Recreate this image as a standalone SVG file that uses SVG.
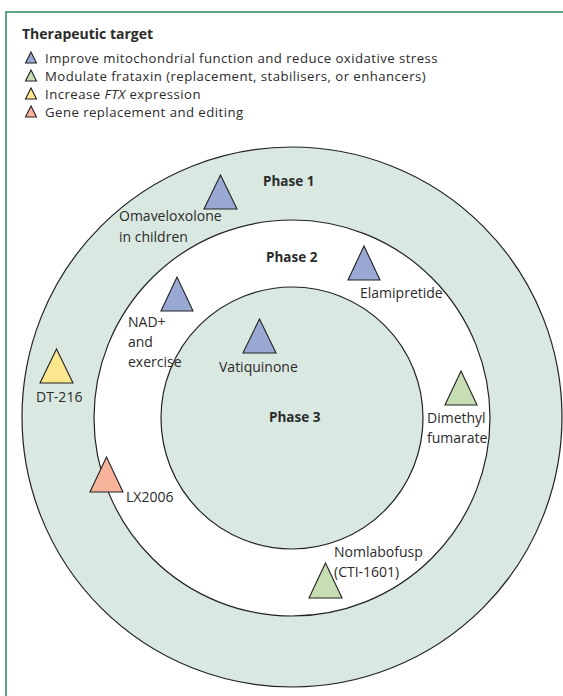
<svg xmlns="http://www.w3.org/2000/svg" width="563" height="696" viewBox="0 0 563 696">
  <style>
    .t { font-family: "Open Sans", "Noto Sans", "DejaVu Sans", sans-serif; font-size: 14px; fill: #2b2b2b; }
    .lg { font-family: "Open Sans", "Noto Sans", "DejaVu Sans", sans-serif; font-size: 13.2px; letter-spacing: 0.45px; fill: #2b2b2b; }
    .b { font-family: "Open Sans", "Noto Sans", "DejaVu Sans", sans-serif; font-size: 13.5px; font-weight: bold; fill: #2b2b2b; }
    .ring { stroke: #222; stroke-width: 1.2; }
    .tri { stroke: #222; stroke-width: 1.1; stroke-linejoin: miter; }
    .blue { fill: #9aa9d4; }
    .green { fill: #c7ddb3; }
    .yellow { fill: #fce68e; }
    .orange { fill: #f6b39a; }
    .frame { stroke: #2a8a5a; stroke-width: 1.5; fill: none; }
  </style>
  <rect width="563" height="696" fill="#ffffff"/>
  <path class="frame" d="M6,696 V12 H563"/>

  <g id="legend">
    <text class="b" x="22" y="39" style="font-size:14px">Therapeutic target</text>
    <polygon class="tri blue" points="31,52 25.5,63 36.5,63"/>
    <text class="lg" x="45" y="63">Improve mitochondrial function and reduce oxidative stress</text>
    <polygon class="tri green" points="31,70 25.5,81 36.5,81"/>
    <text class="lg" x="45" y="81">Modulate frataxin (replacement, stabilisers, or enhancers)</text>
    <polygon class="tri yellow" points="31,88 25.5,99 36.5,99"/>
    <text class="lg" x="45" y="99">Increase <tspan font-style="italic">FTX</tspan> expression</text>
    <polygon class="tri orange" points="31,106 25.5,117 36.5,117"/>
    <text class="lg" x="45" y="117">Gene replacement and editing</text>
  </g>

  <g id="phase1">
    <circle class="ring" cx="292" cy="417" r="270" fill="#d9e8e0"/>
    <text class="b" x="263" y="186">Phase 1</text>
  </g>
  <g id="phase2">
    <circle class="ring" cx="292" cy="418" r="198" fill="#ffffff"/>
    <text class="b" x="266" y="262">Phase 2</text>
  </g>
  <g id="phase3">
    <circle class="ring" cx="292" cy="418" r="131" fill="#d9e8e0"/>
    <text class="b" x="269" y="422">Phase 3</text>
  </g>

  <g id="connectors"/>

  <g id="omaveloxolone">
    <polygon class="tri blue" points="220.5,175 204,209 237,209"/>
    <text class="t" x="119" y="221">Omaveloxolone</text>
    <text class="t" x="119" y="242">in children</text>
  </g>
  <g id="elamipretide">
    <polygon class="tri blue" points="364,246 348,280 380,280"/>
    <text class="t" x="360" y="298">Elamipretide</text>
  </g>
  <g id="nad-exercise">
    <polygon class="tri blue" points="177,277 161,311 193,311"/>
    <text class="t" x="128" y="327">NAD+</text>
    <text class="t" x="128" y="347">and</text>
    <text class="t" x="128" y="367">exercise</text>
  </g>
  <g id="vatiquinone">
    <polygon class="tri blue" points="259.5,319 243,353 276,353"/>
    <text class="t" x="219" y="372">Vatiquinone</text>
  </g>
  <g id="dt216">
    <polygon class="tri yellow" points="56.5,349 40,383 73,383"/>
    <text class="t" x="36" y="402">DT-216</text>
  </g>
  <g id="dimethyl-fumarate">
    <polygon class="tri green" points="461,371 445,405 477,405"/>
    <text class="t" x="427" y="423">Dimethyl</text>
    <text class="t" x="427" y="443">fumarate</text>
  </g>
  <g id="lx2006">
    <polygon class="tri orange" points="106.5,457 90,492 123,492"/>
    <text class="t" x="126" y="502">LX2006</text>
  </g>
  <g id="nomlabofusp">
    <polygon class="tri green" points="325.5,563 309,598 342,598"/>
    <text class="t" x="334" y="557">Nomlabofusp</text>
    <text class="t" x="334" y="577">(CTI-1601)</text>
  </g>
</svg>
